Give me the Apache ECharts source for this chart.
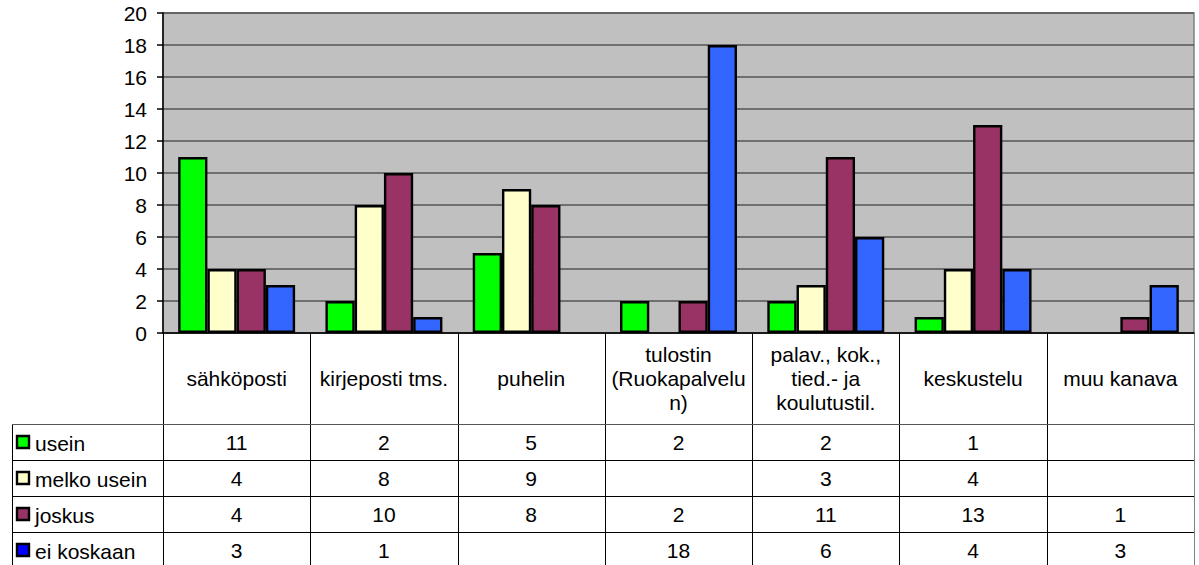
<!DOCTYPE html>
<html>
<head>
<meta charset="utf-8">
<script src="https://cdn.jsdelivr.net/npm/echarts@6/dist/echarts.min.js"></script>
<style>
  html, body { margin: 0; padding: 0; background: #ffffff; }
  #chart { width: 1199px; height: 565px; }
</style>
</head>
<body>
<div id="chart"></div>
<script>
// Communication channels (columns of the data table)
const categories = [
  'sähköposti',
  'kirjeposti tms.',
  'puhelin',
  'tulostin\n(Ruokapalvelu\nn)',
  'palav., kok.,\ntied.- ja\nkoulutustil.',
  'keskustelu',
  'muu kanava'
];

// Answer counts per frequency class (null = no answers)
const usein       = [11, 2, 5, 2, 2, 1, null];
const melkoUsein  = [4, 8, 9, null, 3, 4, null];
const joskus      = [4, 10, 8, 2, 11, 13, 1];
const eiKoskaan   = [3, 1, null, 18, 6, 4, 3];

const seriesNames = ['usein', 'melko usein', 'joskus', 'ei koskaan'];
const seriesData  = [usein, melkoUsein, joskus, eiKoskaan];

// Value axis ticks
const yMin = 0;
const yMax = 20;
const yStep = 2;

const barColors = ['#00FF00', '#FFFFCC', '#993366', '#3366FF'];
const keyColors = ['#00FF00', '#FFFFCC', '#993366', '#0000FF'];

const FONT_FAMILY = '"Liberation Sans", Arial, sans-serif';
const FONT_SIZE = 21;

const chart = echarts.init(document.getElementById('chart'), null, { renderer: 'svg' });

chart.setOption({
  animation: false,
  backgroundColor: '#ffffff',
  grid: {
    left: 163,
    right: 5,
    top: 13,
    bottom: 232,
    show: true,
    backgroundColor: '#C0C0C0',
    borderColor: '#808080',
    borderWidth: 1.5
  },
  xAxis: {
    type: 'category',
    data: categories,
    boundaryGap: true,
    axisLine: { show: true, lineStyle: { color: '#000000', width: 1.5 } },
    axisTick: { show: false },
    axisLabel: { show: false },
    splitLine: { show: false }
  },
  yAxis: {
    type: 'value',
    min: yMin,
    max: yMax,
    interval: yStep,
    axisLine: { show: true, lineStyle: { color: '#000000', width: 1.5 } },
    axisTick: { show: true, inside: false, length: 6, lineStyle: { color: '#000000', width: 1.5 } },
    axisLabel: {
      color: '#000000',
      fontFamily: FONT_FAMILY,
      fontSize: FONT_SIZE,
      margin: 16
    },
    splitLine: { show: true, lineStyle: { color: '#555555', width: 1.6 } }
  },
  series: seriesData.map((arr, i) => ({
    name: seriesNames[i],
    type: 'bar',
    data: arr.map(v => (v == null ? '-' : v)),
    barGap: '0%',
    barCategoryGap: '20.6%',
    itemStyle: {
      color: barColors[i],
      borderColor: '#000000',
      borderWidth: 2.4
    }
  }))
});

// Data table below the plot, aligned to the category axis bands
function drawTable() {
  const c0 = chart.convertToPixel({ xAxisIndex: 0 }, 0);
  const c1 = chart.convertToPixel({ xAxisIndex: 0 }, 1);
  const band = c1 - c0;
  const plotLeft = c0 - band / 2;
  const plotRight = plotLeft + band * categories.length;
  const axisY = chart.convertToPixel({ yAxisIndex: 0 }, yMin);

  const headerH = 91;
  const rowH = 36;
  const tableLeft = 12;
  const bottom = 575;
  const lineColor = '#000000';

  const els = [];
  const font = FONT_SIZE + 'px ' + FONT_FAMILY;

  // vertical lines of the category columns
  for (let i = 0; i <= categories.length; i++) {
    const x = Math.round(plotLeft + i * band) + 0.5;
    els.push({
      type: 'line',
      shape: { x1: x, y1: axisY, x2: x, y2: bottom },
      style: { stroke: i === categories.length ? '#808080' : lineColor, lineWidth: 1 },
      silent: true
    });
  }
  // left edge of the series-name column
  els.push({
    type: 'line',
    shape: { x1: tableLeft + 0.5, y1: axisY + headerH, x2: tableLeft + 0.5, y2: bottom },
    style: { stroke: lineColor, lineWidth: 1 },
    silent: true
  });
  // horizontal row lines
  for (let r = 0; r < seriesNames.length; r++) {
    const y = Math.round(axisY + headerH + r * rowH) + 0.5;
    els.push({
      type: 'line',
      shape: { x1: tableLeft, y1: y, x2: plotRight, y2: y },
      style: { stroke: r === 0 ? '#555555' : lineColor, lineWidth: 1 },
      silent: true
    });
  }

  // category headers
  categories.forEach((name, i) => {
    els.push({
      type: 'text',
      silent: true,
      style: {
        text: name,
        x: plotLeft + (i + 0.5) * band,
        y: axisY + headerH / 2,
        font: font,
        fill: '#000000',
        textAlign: 'center',
        align: 'center',
        textVerticalAlign: 'middle',
        verticalAlign: 'middle',
        lineHeight: 24
      }
    });
  });

  // series rows: legend key, name and values
  seriesNames.forEach((name, r) => {
    const cy = axisY + headerH + r * rowH + rowH / 2;
    els.push({
      type: 'rect',
      silent: true,
      shape: { x: 17, y: Math.round(cy - 6), width: 12, height: 12 },
      style: { fill: keyColors[r], stroke: '#000000', lineWidth: 2.4 }
    });
    els.push({
      type: 'text',
      silent: true,
      style: {
        text: name,
        x: 35,
        y: cy + 1,
        font: font,
        fill: '#000000',
        textAlign: 'left',
        align: 'left',
        textVerticalAlign: 'middle',
        verticalAlign: 'middle'
      }
    });
    seriesData[r].forEach((v, i) => {
      if (v == null) return;
      els.push({
        type: 'text',
        silent: true,
        style: {
          text: String(v),
          x: plotLeft + (i + 0.5) * band,
          y: cy,
          font: font,
          fill: '#000000',
          textAlign: 'center',
          align: 'center',
          textVerticalAlign: 'middle',
          verticalAlign: 'middle'
        }
      });
    });
  });

  chart.setOption({ graphic: { elements: els } });
}

drawTable();
</script>
</body>
</html>
